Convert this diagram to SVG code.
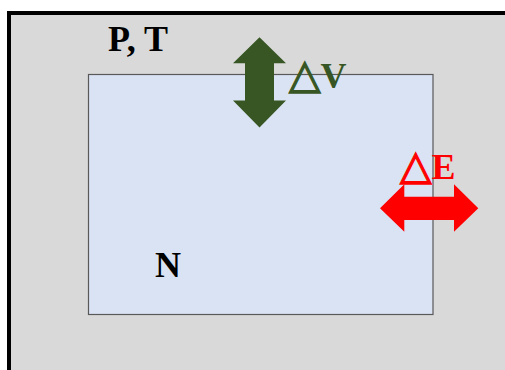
<svg xmlns="http://www.w3.org/2000/svg" width="505" height="370" viewBox="0 0 505 370">
<style>
.lbl{font-family:"Liberation Serif","Times New Roman",serif;font-weight:bold;font-size:36px}
.tri{font-family:"DejaVu Sans",sans-serif;font-weight:bold;font-size:41px;stroke-width:1.3px}
</style>
<rect x="0" y="0" width="505" height="370" fill="#ffffff"/>
<g id="surroundings">
<rect x="9" y="13" width="510" height="370" fill="#d9d9d9" stroke="#000000" stroke-width="4"/>
<text class="lbl" x="108" y="51" fill="#000000">P, T</text>
</g>
<g id="system">
<rect x="88.5" y="74.5" width="344.5" height="240" fill="#dae3f3" stroke="#595959" stroke-width="1.2"/>
<text class="lbl" x="155" y="277" fill="#000000">N</text>
</g>
<g id="connectors">
<g id="volume-exchange">
<polygon points="259.5,37.3 286,63.3 274,63.3 274,100.5 286,100.5 259.5,127.5 233,100.5 245,100.5 245,63.3 233,63.3" fill="#375623"/>
<text class="lbl" x="289" y="88" fill="#375623"><tspan class="tri" stroke="#375623">△</tspan>V</text>
</g>
<g id="energy-exchange">
<polygon points="380,208.3 404.3,184.3 404.3,196.7 454,196.7 454,184.3 478.3,208.3 454,231.7 454,220 404.3,220 404.3,231.7" fill="#ff0000"/>
<text class="lbl" x="400" y="179" fill="#ff0000"><tspan class="tri" stroke="#ff0000">△</tspan>E</text>
</g>
</g>
</svg>
